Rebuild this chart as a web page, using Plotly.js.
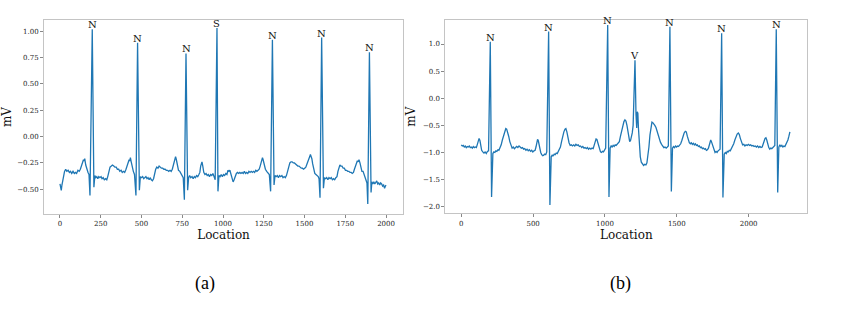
<!DOCTYPE html>
<html><head><meta charset="utf-8">
<script src="https://cdn.plot.ly/plotly-3.0.1.min.js"></script>
<style>html,body{margin:0;padding:0;background:#fff;}#chart{width:842px;height:309px;}</style>
</head><body><div id="chart"></div>
<script>
// Panel (a): [location, mV] samples
const samplesA = [
 [0,-0.45],[5,-0.49],[8,-0.51],[12,-0.46],[20,-0.37],[28,-0.33],[35,-0.31],[42,-0.33],[50,-0.32],[58,-0.34],[65,-0.33],[72,-0.35],[80,-0.33],[88,-0.35],[95,-0.34],[102,-0.35],[110,-0.32],[118,-0.33],[125,-0.31],[132,-0.27],[140,-0.24],[144,-0.22],[148,-0.23],[152,-0.21],[158,-0.27],[165,-0.32],[172,-0.34],[178,-0.36],
 [184,-0.56],[198,1.02],[208,-0.48],[214,-0.37],[220,-0.39],[226,-0.38],[232,-0.40],[238,-0.38],[245,-0.39],[252,-0.38],[258,-0.40],[265,-0.39],[272,-0.41],[280,-0.40],[287,-0.41],[293,-0.38],[300,-0.33],[307,-0.29],[315,-0.28],[322,-0.27],[330,-0.28],[337,-0.29],[345,-0.29],[352,-0.31],[360,-0.31],[367,-0.33],[375,-0.32],[382,-0.34],[390,-0.33],[397,-0.34],[405,-0.31],[412,-0.27],[418,-0.24],[424,-0.22],[428,-0.23],[432,-0.20],[437,-0.24],[443,-0.30],[450,-0.33],[457,-0.36],
 [466,-0.56],[476,0.89],[487,-0.51],[493,-0.38],[500,-0.39],[507,-0.38],[514,-0.40],[520,-0.39],[527,-0.38],[534,-0.40],[540,-0.39],[547,-0.41],[553,-0.39],[560,-0.41],[567,-0.42],[574,-0.40],[580,-0.35],[587,-0.31],[594,-0.29],[601,-0.30],[608,-0.28],[615,-0.29],[622,-0.30],[630,-0.30],[637,-0.31],[645,-0.31],[652,-0.32],[660,-0.32],[667,-0.33],[675,-0.32],[682,-0.33],[689,-0.31],[695,-0.27],[700,-0.24],[705,-0.20],[709,-0.19],[714,-0.22],[720,-0.28],[727,-0.32],[735,-0.33],[742,-0.35],[750,-0.37],[756,-0.39],
 [763,-0.60],[773,0.79],[783,-0.51],[789,-0.39],[795,-0.37],[802,-0.39],[810,-0.38],[817,-0.40],[824,-0.38],[831,-0.39],[838,-0.37],[845,-0.38],[852,-0.36],[858,-0.34],[863,-0.28],[867,-0.25],[871,-0.24],[876,-0.28],[882,-0.34],[889,-0.36],[896,-0.35],[903,-0.37],[910,-0.36],[917,-0.38],[924,-0.36],[931,-0.37],[938,-0.35],[945,-0.38],[952,-0.41],
 [963,1.03],[969,-0.52],[975,-0.37],[982,-0.38],[989,-0.36],[996,-0.38],[1003,-0.36],[1010,-0.37],[1017,-0.35],[1024,-0.36],[1030,-0.32],[1036,-0.33],[1042,-0.32],[1048,-0.36],[1055,-0.40],[1062,-0.43],[1068,-0.41],[1075,-0.37],[1082,-0.35],[1089,-0.34],[1096,-0.35],[1103,-0.34],[1110,-0.35],[1117,-0.34],[1124,-0.35],[1131,-0.33],[1138,-0.35],[1145,-0.34],[1152,-0.35],[1159,-0.33],[1166,-0.34],[1173,-0.33],[1180,-0.34],[1187,-0.33],[1194,-0.34],[1201,-0.32],[1208,-0.33],[1215,-0.32],[1222,-0.31],[1228,-0.28],[1234,-0.23],[1238,-0.22],[1242,-0.20],[1246,-0.22],[1252,-0.26],[1260,-0.31],[1268,-0.33],[1276,-0.35],[1284,-0.36],
 [1292,-0.52],[1303,0.92],[1313,-0.46],[1319,-0.37],[1326,-0.38],[1333,-0.37],[1340,-0.39],[1347,-0.37],[1354,-0.38],[1361,-0.37],[1368,-0.39],[1375,-0.38],[1382,-0.39],[1389,-0.37],[1396,-0.33],[1403,-0.28],[1410,-0.25],[1417,-0.24],[1424,-0.24],[1431,-0.25],[1438,-0.25],[1445,-0.26],[1452,-0.27],[1459,-0.28],[1466,-0.28],[1473,-0.29],[1480,-0.30],[1487,-0.30],[1494,-0.31],[1501,-0.30],[1508,-0.29],[1515,-0.26],[1521,-0.24],[1527,-0.21],[1532,-0.19],[1536,-0.17],[1540,-0.19],[1545,-0.21],[1550,-0.26],[1556,-0.31],[1563,-0.35],[1570,-0.36],[1577,-0.37],[1584,-0.38],[1589,-0.40],
 [1595,-0.58],[1605,0.94],[1616,-0.49],[1622,-0.39],[1629,-0.40],[1636,-0.39],[1643,-0.41],[1650,-0.39],[1657,-0.40],[1664,-0.39],[1671,-0.41],[1678,-0.40],[1685,-0.41],[1692,-0.39],[1699,-0.38],[1705,-0.33],[1711,-0.29],[1717,-0.27],[1723,-0.28],[1730,-0.28],[1737,-0.30],[1744,-0.30],[1751,-0.32],[1758,-0.32],[1765,-0.33],[1772,-0.33],[1779,-0.34],[1786,-0.34],[1793,-0.35],[1800,-0.34],[1806,-0.31],[1812,-0.28],[1818,-0.25],[1824,-0.23],[1829,-0.24],[1834,-0.22],[1840,-0.25],[1846,-0.30],[1852,-0.33],[1859,-0.33],[1866,-0.37],[1872,-0.40],[1878,-0.42],[1883,-0.44],
 [1888,-0.64],[1898,0.80],[1908,-0.53],[1913,-0.43],[1919,-0.45],[1925,-0.43],[1931,-0.45],[1937,-0.44],[1943,-0.42],[1949,-0.45],[1955,-0.44],[1961,-0.46],[1967,-0.44],[1973,-0.45],[1979,-0.47],[1985,-0.46],[1991,-0.49],[1996,-0.47],[2000,-0.46]
];
const beatLocA = [198,476,773,963,1303,1605,1898];
const beatMvA  = [1.02,0.89,0.79,1.03,0.92,0.94,0.80];
const beatLabA = ['N','N','N','S','N','N','N'];

// Panel (b)
const samplesB = [
 [0,-0.86],[7,-0.88],[14,-0.87],[21,-0.90],[28,-0.88],[35,-0.91],[42,-0.89],[49,-0.90],[56,-0.88],[63,-0.91],[70,-0.90],[77,-0.92],[84,-0.89],[91,-0.91],[98,-0.90],[105,-0.91],[112,-0.85],[118,-0.78],[124,-0.74],[130,-0.78],[136,-0.88],[142,-0.96],[150,-0.99],[158,-1.01],[166,-0.99],[174,-1.02],[182,-0.98],[190,-0.97],
 [202,1.04],[211,-1.82],[220,-1.02],[227,-0.99],[234,-1.00],[241,-0.97],[248,-0.98],[255,-0.95],[262,-0.96],[270,-0.92],[278,-0.86],[286,-0.77],[294,-0.68],[302,-0.60],[310,-0.56],[316,-0.57],[323,-0.62],[330,-0.70],[338,-0.80],[346,-0.87],[354,-0.92],[362,-0.90],[370,-0.93],[378,-0.91],[386,-0.89],[394,-0.91],[402,-0.88],[410,-0.90],[418,-0.92],[426,-0.91],[434,-0.94],[442,-0.93],[450,-0.96],[458,-0.94],[466,-0.97],[474,-0.95],[482,-0.98],[490,-0.96],[498,-0.99],[506,-0.97],[514,-0.96],[520,-0.90],[526,-0.82],[531,-0.76],[536,-0.78],[541,-0.86],[547,-0.92],[553,-1.00],[560,-1.04],[567,-1.06],[574,-1.05],[581,-1.03],[588,-1.04],[595,-0.99],
 [608,1.23],[617,-1.97],[626,-1.08],[633,-1.05],[640,-1.06],[647,-1.03],[654,-1.04],[661,-1.01],[668,-1.02],[675,-0.99],[682,-0.96],[690,-0.90],[698,-0.80],[706,-0.70],[714,-0.62],[722,-0.57],[728,-0.56],[735,-0.62],[742,-0.72],[750,-0.82],[758,-0.87],[766,-0.86],[774,-0.88],[782,-0.86],[790,-0.88],[798,-0.85],[806,-0.87],[814,-0.86],[822,-0.89],[830,-0.88],[838,-0.91],[846,-0.89],[854,-0.92],[862,-0.91],[870,-0.93],[878,-0.91],[886,-0.94],[894,-0.92],[902,-0.94],[910,-0.92],[918,-0.93],[925,-0.88],[932,-0.80],[938,-0.75],[944,-0.76],[950,-0.83],[956,-0.90],[962,-0.96],[969,-0.99],[976,-1.00],[983,-0.98],[990,-0.99],[997,-0.96],[1005,-0.92],
 [1019,1.35],[1028,-1.82],[1036,-0.92],[1043,-0.88],[1050,-0.90],[1057,-0.87],[1064,-0.89],[1071,-0.86],[1078,-0.87],[1085,-0.85],[1092,-0.84],[1100,-0.80],[1108,-0.70],[1116,-0.60],[1124,-0.50],[1132,-0.43],[1139,-0.40],[1146,-0.42],[1153,-0.50],[1160,-0.62],[1166,-0.74],[1172,-0.80],[1178,-0.78],[1184,-0.72],[1190,-0.64],[1196,-0.50],
 [1209,0.70],[1216,-0.30],[1221,-0.55],[1225,-0.25],[1229,-0.28],[1233,-0.55],[1239,-0.85],[1246,-1.08],[1253,-1.18],[1261,-1.22],[1269,-1.24],[1277,-1.22],[1285,-1.23],[1292,-1.19],[1299,-1.08],[1306,-0.90],[1313,-0.68],[1320,-0.52],[1327,-0.44],[1333,-0.45],[1340,-0.49],[1347,-0.50],[1355,-0.54],[1362,-0.60],[1370,-0.68],[1378,-0.76],[1386,-0.81],[1394,-0.85],[1402,-0.88],[1410,-0.91],[1418,-0.90],[1426,-0.92],[1434,-0.90],[1441,-0.88],
 [1452,1.32],[1462,-1.72],[1470,-0.92],[1477,-0.89],[1484,-0.91],[1491,-0.88],[1498,-0.90],[1505,-0.88],[1512,-0.89],[1519,-0.87],[1527,-0.84],[1535,-0.78],[1543,-0.70],[1551,-0.64],[1559,-0.61],[1566,-0.62],[1573,-0.70],[1580,-0.78],[1587,-0.82],[1594,-0.84],[1601,-0.82],[1608,-0.85],[1615,-0.83],[1622,-0.86],[1629,-0.84],[1636,-0.87],[1643,-0.86],[1650,-0.89],[1657,-0.88],[1664,-0.91],[1671,-0.90],[1678,-0.93],[1685,-0.92],[1692,-0.94],[1699,-0.93],[1706,-0.96],[1713,-0.95],[1720,-0.92],[1726,-0.86],[1731,-0.79],[1736,-0.77],[1741,-0.80],[1747,-0.86],[1753,-0.92],[1759,-0.97],[1766,-1.00],[1773,-0.98],[1780,-1.00],[1787,-0.97],[1794,-0.96],[1801,-0.94],
 [1812,1.20],[1821,-1.83],[1830,-1.03],[1837,-1.00],[1844,-1.02],[1851,-0.98],[1858,-0.99],[1865,-0.96],[1872,-0.97],[1880,-0.93],[1888,-0.90],[1896,-0.84],[1904,-0.77],[1912,-0.70],[1920,-0.66],[1928,-0.64],[1935,-0.67],[1942,-0.74],[1950,-0.82],[1958,-0.86],[1966,-0.85],[1974,-0.88],[1982,-0.86],[1990,-0.87],[1998,-0.85],[2006,-0.87],[2014,-0.86],[2022,-0.88],[2030,-0.87],[2038,-0.89],[2046,-0.88],[2054,-0.90],[2062,-0.88],[2070,-0.91],[2078,-0.89],[2086,-0.91],[2094,-0.90],[2101,-0.86],[2108,-0.79],[2114,-0.74],[2120,-0.73],[2126,-0.77],[2133,-0.85],[2140,-0.91],[2147,-0.94],[2154,-0.92],[2161,-0.93],[2168,-0.91],[2175,-0.90],[2182,-0.87],
 [2192,1.27],[2202,-1.74],[2210,-0.90],[2217,-0.86],[2224,-0.89],[2231,-0.87],[2238,-0.90],[2245,-0.88],[2252,-0.89],[2259,-0.85],[2266,-0.82],[2273,-0.77],[2280,-0.70],[2287,-0.62]
];
const beatLocB = [202,608,1019,1209,1452,1812,2192];
const beatMvB  = [1.04,1.23,1.35,0.70,1.32,1.20,1.27];
const beatLabB = ['N','N','N','V','N','N','N'];

const ticksAx = [0,250,500,750,1000,1250,1500,1750,2000];
const ticksAy = [-0.5,-0.25,0,0.25,0.5,0.75,1.0];
const ticksBx = [0,500,1000,1500,2000];
const ticksBy = [-2,-1.5,-1,-0.5,0,0.5,1.0];
const panelLabels = ['(a)','(b)'];

const serif = 'DejaVu Serif, serif';
const lineStyle = {color:'#1f77b4', width:1.3};

const traces = [
  {x:samplesA.map(p=>p[0]), y:samplesA.map(p=>p[1]), type:'scatter', mode:'lines', line:lineStyle, xaxis:'x', yaxis:'y', hoverinfo:'skip'},
  {x:samplesB.map(p=>p[0]), y:samplesB.map(p=>p[1]), type:'scatter', mode:'lines', line:lineStyle, xaxis:'x2', yaxis:'y2', hoverinfo:'skip'}
];

function axisBase(){
  return {showgrid:false, zeroline:false, showline:true, mirror:true, linecolor:'#c4c4c4', linewidth:1,
    ticks:'outside', ticklen:3, tickcolor:'#888', tickfont:{family:serif, size:7, color:'#222'}};
}
const titleFont = {family:serif, size:12, color:'#111'};

const annotations = [];
beatLocA.forEach((b,i)=>annotations.push({x:b, y:beatMvA[i], xref:'x', yref:'y', text:beatLabA[i], showarrow:false, yanchor:'bottom', yshift:-3, font:{family:serif, size:10, color:'#111'}}));
beatLocB.forEach((b,i)=>annotations.push({x:b, y:beatMvB[i], xref:'x2', yref:'y2', text:beatLabB[i], showarrow:false, yanchor:'bottom', yshift:-3, font:{family:serif, size:10, color:'#111'}}));
annotations.push({x:205/842, y:1-283/309, xref:'paper', yref:'paper', text:panelLabels[0], showarrow:false, xanchor:'center', yanchor:'middle', font:{family:'Liberation Serif, serif', size:18, color:'#000'}});
annotations.push({x:620/842, y:1-283/309, xref:'paper', yref:'paper', text:panelLabels[1], showarrow:false, xanchor:'center', yanchor:'middle', font:{family:'Liberation Serif, serif', size:18, color:'#000'}});

const layout = {
  width:842, height:309, margin:{l:0,r:0,t:0,b:0}, showlegend:false,
  paper_bgcolor:'#fff', plot_bgcolor:'#fff',
  xaxis: Object.assign(axisBase(), {domain:[44/842, 403/842], range:[-98,2104], tickvals:ticksAx,
    title:{text:'Location', font:titleFont, standoff:1}, anchor:'y'}),
  yaxis: Object.assign(axisBase(), {domain:[1-214/309, 1-20/309], range:[-0.735,1.107], tickvals:ticksAy, tickformat:'.2f',
    title:{text:'mV', font:titleFont, standoff:4}, anchor:'x'}),
  xaxis2: Object.assign(axisBase(), {domain:[445.3/842, 807.3/842], range:[-111,2408], tickvals:ticksBx,
    title:{text:'Location', font:titleFont, standoff:1}, anchor:'y2'}),
  yaxis2: Object.assign(axisBase(), {domain:[1-213.3/309, 1-20/309], range:[-2.122,1.443], tickvals:ticksBy, tickformat:'.1f',
    title:{text:'mV', font:titleFont, standoff:4}, anchor:'x2'}),
  annotations: annotations
};

Plotly.newPlot('chart', traces, layout, {staticPlot:true, displayModeBar:false});
</script></body></html>
